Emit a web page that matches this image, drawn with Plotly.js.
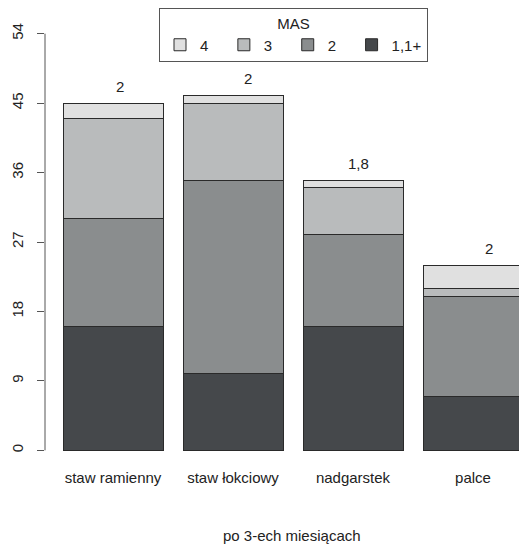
<!DOCTYPE html>
<html>
<head>
<meta charset="utf-8">
<script src="https://cdn.plot.ly/plotly-3.0.1.min.js"></script>
<style>
  html, body { margin: 0; padding: 0; background: #ffffff; }
  #chart { width: 519px; height: 545px; }
</style>
</head>
<body>
<div id="chart"></div>
<script>
// Joints assessed after three months
const categories = ["staw ramienny", "staw łokciowy", "nadgarstek", "palce"];

// Number of patients per MAS score (stacked from the bottom)
const mas11plus = [16, 10, 16, 7];
const mas2 = [14, 25, 12, 13];
const mas3 = [13, 10, 6, 1];
const mas4 = [2, 1, 1, 3];

// Median MAS printed above each bar
const medianLabels = ["2", "2", "1,8", "2"];

const seriesNames = ["1,1+", "2", "3", "4"];
const seriesValues = [mas11plus, mas2, mas3, mas4];
const seriesColors = ["#45484b", "#8a8d8e", "#b9bbbc", "#e0e0e0"];

// Horizontal nudge for the median labels (px)
const labelShift = [7, 15, 5, 16];

// trailing spaces keep the legend entries evenly spread
const legendPad = "\u2002\u2009";

const xpos = categories.map((_, i) => i);
const totals = xpos.map(i => seriesValues.reduce((s, arr) => s + arr[i], 0));

const traces = seriesValues.map((vals, k) => ({
  type: "bar",
  name: k === 0 ? seriesNames[k] : seriesNames[k] + legendPad,
  x: xpos,
  y: vals,
  marker: { color: seriesColors[k], line: { color: "#2a2a2a", width: 1 } },
  hoverinfo: "skip"
}));

const font = { family: "Liberation Sans, Arial, sans-serif", size: 15, color: "#222" };

const annotations = xpos.map(i => ({
  x: i, y: totals[i], xref: "x", yref: "y",
  text: medianLabels[i], showarrow: false,
  xanchor: "center", yanchor: "middle",
  xshift: labelShift[i], yshift: 17,
  font: font
}));

// x-axis caption
annotations.push({
  text: "po 3-ech miesiącach", showarrow: false,
  xref: "paper", yref: "paper",
  x: 0.522, y: -68 / 450,
  xanchor: "center", yanchor: "middle",
  font: font
});

const layout = {
  width: 519, height: 545,
  margin: { l: 45, r: 0, t: 17, b: 78, autoexpand: false },
  paper_bgcolor: "#ffffff", plot_bgcolor: "#ffffff",
  barmode: "stack",
  bargap: 1 - 100 / 120,
  font: font,
  showlegend: true,
  legend: {
    orientation: "h",
    traceorder: "reversed",
    xref: "container", yref: "container",
    x: 159 / 519, xanchor: "left",
    y: 1 - 8 / 545, yanchor: "top",
    bgcolor: "#ffffff",
    bordercolor: "#555",
    borderwidth: 1,
    title: { text: "MAS", side: "top center", font: font },
    font: font
  },
  xaxis: {
    range: [-0.5667, 3.3833],
    tickmode: "array",
    tickvals: xpos,
    ticktext: categories,
    ticks: "",
    showline: false, showgrid: false, zeroline: false,
    tickfont: font,
    fixedrange: true
  },
  yaxis: {
    range: [-2.16, 56.16],
    tickmode: "array",
    tickvals: [0, 9, 18, 27, 36, 45, 54],
    ticks: "outside", ticklen: 7, tickcolor: "#555", tickwidth: 1,
    tickangle: -90,
    ticklabelstandoff: 8,
    showline: false, showgrid: false, zeroline: false,
    tickfont: font,
    fixedrange: true
  },
  shapes: [{
    type: "line", xref: "paper", yref: "y",
    x0: 0, x1: 0, y0: 0, y1: 54,
    line: { color: "#555", width: 1 }
  }],
  annotations: annotations
};

Plotly.newPlot("chart", traces, layout, { staticPlot: true, displayModeBar: false });
</script>
</body>
</html>
